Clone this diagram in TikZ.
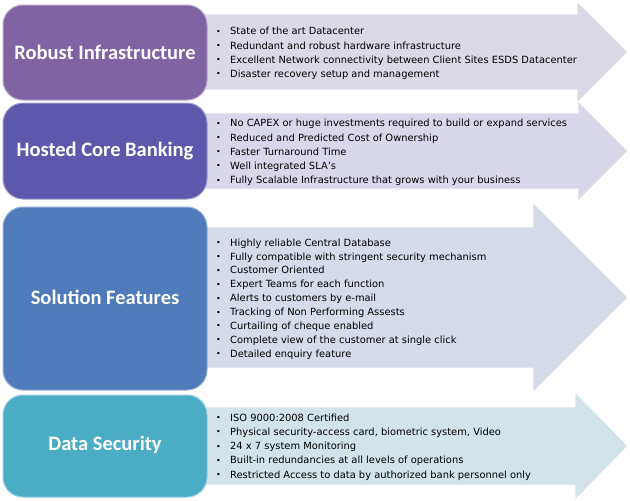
\documentclass[tikz,border=0pt]{standalone}
\usepackage{fontspec}
\newfontfamily\bodyfont{DejaVu Sans}
\newfontfamily\titlefont{Carlito}
\definecolor{boxA}{HTML}{8063A2}
\definecolor{boxB}{HTML}{5E58AC}
\definecolor{boxC}{HTML}{4F7BBB}
\definecolor{boxD}{HTML}{4BACC6}
\definecolor{arrA}{HTML}{DCD9E6}
\definecolor{arrB}{HTML}{D9D8EA}
\definecolor{arrC}{HTML}{D5DBE9}
\definecolor{arrD}{HTML}{D3E3EA}
\newcommand\bl{\makebox[14pt][l]{\raisebox{0.1ex}{\scalebox{0.8}{•}}}}
\begin{document}
\begin{tikzpicture}[x=1pt,y=-1pt,
  titlebox/.style={rounded corners=20pt, line width=1pt},
  arrowshape/.style={draw=white, line width=0.8pt},
  title/.style={text=white, font=\titlefont\bfseries\fontsize{20.5}{24}\selectfont},
  list/.style={anchor=west, inner sep=0pt, align=left, font=\bodyfont\fontsize{9.9}{14.2}\selectfont}]
\useasboundingbox (0,0) rectangle (630,501);
% arrows
\fill[arrA, arrowshape] (200,14) -- (577,14) -- (577,1) -- (628,52) -- (577,103) -- (577,90) -- (200,90) -- cycle;
\fill[arrB, arrowshape] (200,113) -- (578,113) -- (578,101) -- (628,151) -- (578,201) -- (578,189) -- (200,189) -- cycle;
\fill[arrC, arrowshape] (200,227) -- (533,227) -- (533,202.5) -- (628,297.5) -- (533,392.5) -- (533,368) -- (200,368) -- cycle;
\fill[arrD, arrowshape] (200,407) -- (575,407) -- (575,392) -- (628,446) -- (575,500) -- (575,485) -- (200,485) -- cycle;
% boxes
\filldraw[titlebox, fill=boxA, draw=boxA!60!white] (3,5) rectangle (207,100);
\filldraw[titlebox, fill=boxB, draw=boxB!60!white] (3,103) rectangle (207,199);
\filldraw[titlebox, fill=boxC, draw=boxC!60!white] (3,207) rectangle (207,390);
\filldraw[titlebox, fill=boxD, draw=boxD!60!white] (3,395) rectangle (207,497);
\node[title] (t1) at (105,52) {Robust Infrastructure};
\node[title] (t2) at (105,151) {Hosted Core Banking};
\node[title] (t3) at (105,297) {Solution Features};
\node[title] (t4) at (105,445) {Data Security};
% lists
\node[list] (l1) at (216,53.5) {\bl State of the art Datacenter\\
\bl Redundant and robust hardware infrastructure\\
\bl Excellent Network connectivity between Client Sites ESDS Datacenter\\
\bl Disaster recovery setup and management};
\node[list] (l2) at (216,152.5) {\bl No CAPEX or huge investments required to build or expand services\\
\bl Reduced and Predicted Cost of Ownership\\
\bl Faster Turnaround Time\\
\bl Well integrated SLA’s\\
\bl Fully Scalable Infrastructure that grows with your business};
\node[list, font=\bodyfont\fontsize{9.9}{13.9}\selectfont] (l3) at (216,299) {\bl Highly reliable Central Database\\
\bl Fully compatible with stringent security mechanism\\
\bl Customer Oriented\\
\bl Expert Teams for each function\\
\bl Alerts to customers by e-mail\\
\bl Tracking of Non Performing Assests\\
\bl Curtailing of cheque enabled\\
\bl Complete view of the customer at single click\\
\bl Detailed enquiry feature};
\node[list] (l4) at (216,447) {\bl ISO 9000:2008 Certified\\
\bl Physical security-access card, biometric system, Video\\
\bl 24 x 7 system Monitoring\\
\bl Built-in redundancies at all levels of operations\\
\bl Restricted Access to data by authorized bank personnel only};
\end{tikzpicture}
\end{document}
